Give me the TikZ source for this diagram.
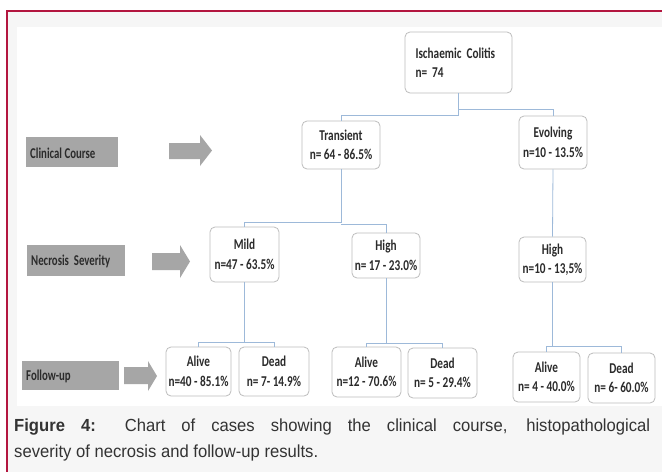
\documentclass[tikz,border=0pt]{standalone}
\usepackage{fontspec}
\setmainfont{Liberation Sans}
\newfontfamily\bxfont[FakeStretch=0.75]{Carlito}
\newfontfamily\lbfont[FakeStretch=0.72]{Carlito}
\newfontfamily\capfont[FakeStretch=0.95]{Liberation Sans}
\definecolor{frame}{HTML}{B3163F}
\definecolor{outerbg}{HTML}{F6F6F6}
\definecolor{conncol}{HTML}{9DB9D9}
\definecolor{boxline}{HTML}{BDBDBD}
\definecolor{labfill}{HTML}{A6A6A6}
\definecolor{txt}{HTML}{2B2B2B}
\definecolor{captxt}{HTML}{333333}
\tikzset{
  box/.style={draw=boxline, line width=0.8pt, rounded corners=5pt, fill=white,
    inner sep=0pt, align=center, text=txt,
    font=\bxfont\bfseries\fontsize{15}{19.5}\selectfont},
  lab/.style={fill=labfill, inner sep=0pt, anchor=north west},
  labtext/.style={anchor=west, inner sep=0pt, text=txt,
    font=\lbfont\bfseries\fontsize{15}{16}\selectfont},
  conn/.style={draw=conncol, line width=0.8pt},
  garrow/.style={fill=labfill, draw=none}
}
\begin{document}
\begin{tikzpicture}[x=1pt,y=-1pt]
\useasboundingbox (0,0) rectangle (662,472);
\fill[white] (0,0) rectangle (662,472);
\fill[outerbg] (7,11) rectangle (662,472);
\fill[white] (17,27) rectangle (662,406);
\draw[frame, line width=1.2pt] (662,11) -- (7,11) -- (7,472);

% level labels
\node[lab, minimum width=92pt, minimum height=30pt] (lclin) at (26,137) {};
\node[labtext] (tclin) at (30,153) {Clinical Course};
\node[lab, minimum width=98pt, minimum height=31pt] (lnec) at (27,245) {};
\node[labtext] (tnec) at (31,261) {Necrosis\ \ Severity};
\node[lab, minimum width=97pt, minimum height=29pt] (lfol) at (22,361) {};
\node[labtext] (tfol) at (26,376) {Follow-up};

% block arrows
\fill[garrow] (169,143) -- (200,143) -- (200,135) -- (212,150.5) -- (200,166) -- (200,159) -- (169,159) -- cycle;
\fill[garrow] (152,253) -- (180,253) -- (180,245) -- (190,261.5) -- (180,278) -- (180,270) -- (152,270) -- cycle;
\fill[garrow] (124,367) -- (148,367) -- (148,361) -- (157,376) -- (148,391) -- (148,384) -- (124,384) -- cycle;

% boxes
\node[box, minimum width=107pt, minimum height=61pt, text width=86pt, align=left] (root) at (458.5,62.5) {Ischaemic Colitis\\n= 74};
\node[box, minimum width=78pt, minimum height=48pt] (trans) at (341,145) {Transient\\n= 64 - 86.5\%};
\node[box, minimum width=68pt, minimum height=53pt] (evol) at (553,142.5) {Evolving\\n=10 - 13.5\%};
\node[box, minimum width=69pt, minimum height=55pt] (mild) at (244.5,254.5) {Mild\\n=47 - 63.5\%};
\node[box, minimum width=68pt, minimum height=45pt] (high1) at (386,255.5) {High\\n= 17 - 23.0\%};
\node[box, minimum width=67pt, minimum height=45pt] (high2) at (552.5,259.5) {High\\n=10 - 13,5\%};
\node[box, minimum width=65pt, minimum height=49pt] (alive1) at (198.5,371.5) {Alive\\n=40 - 85.1\%};
\node[box, minimum width=70pt, minimum height=49pt] (dead1) at (274,371.5) {Dead\\n= 7- 14.9\%};
\node[box, minimum width=69pt, minimum height=50pt] (alive2) at (366.5,372) {Alive\\n=12 - 70.6\%};
\node[box, minimum width=69pt, minimum height=50pt] (dead2) at (442.5,373) {Dead\\n= 5 - 29.4\%};
\node[box, minimum width=67pt, minimum height=50pt] (alive3) at (546.5,377) {Alive\\n= 4 - 40.0\%};
\node[box, minimum width=67pt, minimum height=50pt] (dead3) at (621.5,378) {Dead\\n= 6- 60.0\%};

% connectors
\draw[conn] (root.south) -- (root.south |- 0,115) -| (trans.north);
\draw[conn] (root.south |- 0,109) -| (evol.north);
\draw[conn] (trans.south) -- (trans.south |- 0,222) -| (mild.north);
\draw[conn] (trans.south |- 0,224) -| (high1.north);
\draw[conn] (evol.south) -- (high2.north);
\draw[conn] (mild.south) -- (mild.south |- 0,342) -| (alive1.north);
\draw[conn] (mild.south |- 0,342) -| (dead1.north);
\draw[conn] (high1.south) -- (high1.south |- 0,343) -| (alive2.north);
\draw[conn] (high1.south |- 0,343) -| (dead2.north);
\draw[conn] (high2.south) -- (high2.south |- 0,346) -| (alive3.north);
\draw[conn] (high2.south |- 0,346) -| (dead3.north);

% caption
\node[anchor=north west, inner sep=0pt, text width=636pt, align=justify, text=captxt,
  font=\capfont\fontsize{17.5}{26}\selectfont] (cap) at (14,419)
  {\textbf{Figure 4:} Chart of cases showing the clinical course, histopathological\linebreak severity of necrosis and follow-up results.};
\end{tikzpicture}
\end{document}
